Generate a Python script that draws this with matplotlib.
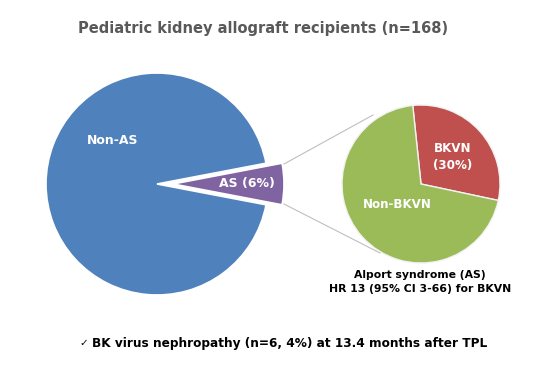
import matplotlib
matplotlib.use("Agg")
import matplotlib.pyplot as plt

plt.rcParams['font.family'] = ['DejaVu Sans']

# data
main_labels = ["AS (6%)", "Non-AS"]
main_values = [6, 94]
main_colors = ["#8064A2", "#4F81BD"]

sub_labels = ["BKVN\n(30%)", "Non-BKVN"]
sub_values = [30, 70]
sub_colors = ["#C0504D", "#9BBB59"]

title = "Pediatric kidney allograft recipients (n=168)"
sub_caption = "Alport syndrome (AS)\nHR 13 (95% CI 3-66) for BKVN"
note = "BK virus nephropathy (n=6, 4%) at 13.4 months after TPL"

W, H = 550, 378
fig = plt.figure(figsize=(W / 100, H / 100), dpi=100)
ax = fig.add_axes([0, 0, 1, 1])

def py(y):  # pixel y (from top) -> data y
    return H - y

# big pie, AS slice centred on 0 degrees and pulled out (explode is in data units here)
big_c = (157, py(184))
big_r = 111
as_half = main_values[0] / sum(main_values) * 360 / 2
ax.pie(main_values, colors=main_colors, startangle=-as_half,
       center=big_c, radius=big_r, explode=[16, 0],
       wedgeprops=dict(edgecolor="white", linewidth=1.2), frame=True)

# small pie
sm_c = (421, py(184))
sm_r = 79
ax.pie(sub_values, colors=sub_colors, startangle=96, counterclock=False,
       center=sm_c, radius=sm_r,
       wedgeprops=dict(edgecolor="#F2F2F2", linewidth=1.0), frame=True)

ax.set_xlim(0, W)
ax.set_ylim(0, H)
ax.set_aspect("equal")
ax.axis("off")

# connector lines
ax.plot([284, 373], [py(164), py(115)], color="#BFBFBF", lw=0.8)
ax.plot([284, 380], [py(204), py(253)], color="#BFBFBF", lw=0.8)

# labels
ax.text(113, py(141), main_labels[1], color="white", fontsize=9,
        fontweight="bold", ha="center", va="center")
ax.text(247, py(184), main_labels[0], color="white", fontsize=9,
        fontweight="bold", ha="center", va="center")
ax.text(453, py(157), sub_labels[0], color="white", fontsize=8.6,
        fontweight="bold", ha="center", va="center", linespacing=1.45)
ax.text(397, py(205), sub_labels[1], color="white", fontsize=8.6,
        fontweight="bold", ha="center", va="center")

ax.text(263, py(29), title, color="#595959", fontsize=10.5, fontweight="bold",
        ha="center", va="center")
ax.text(420, py(282), sub_caption, color="black", fontsize=7.8,
        fontweight="bold", ha="center", va="center", linespacing=1.6)
ax.text(79, py(343), "\u2713", color="black", fontsize=7.5,
        ha="left", va="center")
ax.text(92, py(343), note, color="black", fontsize=8.7, fontweight="bold",
        ha="left", va="center")

fig.savefig("out.png", dpi=100, facecolor="white")
